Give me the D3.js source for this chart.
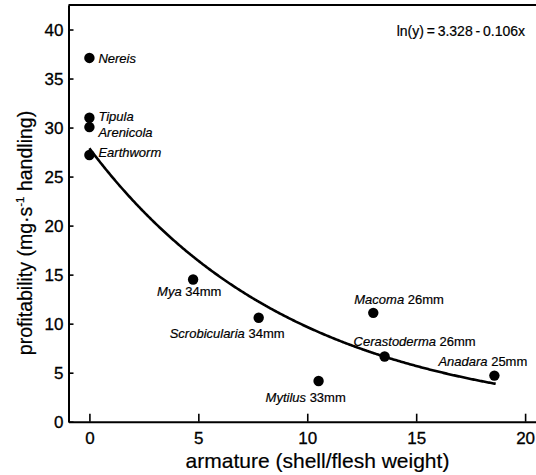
<!DOCTYPE html>
<html>
<head>
<meta charset="utf-8">
<script src="https://cdn.jsdelivr.net/npm/d3@7"></script>
<style>
  html, body { margin: 0; padding: 0; background: #fff; }
  svg { display: block; font-family: "Liberation Sans", Arial, Helvetica, sans-serif; }
</style>
</head>
<body>
<svg id="chart" width="536" height="475"></svg>
<script>
// Prey species: armature (shell/flesh weight) vs profitability
const species   = ["Nereis", "Tipula", "Arenicola", "Earthworm", "Mya", "Scrobicularia", "Macoma", "Cerastoderma", "Anadara", "Mytilus"];
const sizes     = ["", "", "", "", "34mm", "34mm", "26mm", "26mm", "25mm", "33mm"];
const armature  = [0, 0, 0, 0, 4.76, 7.77, 13.03, 13.55, 18.59, 10.52];
const profit    = [37.1, 31.0, 30.05, 27.2, 14.5, 10.6, 11.1, 6.65, 4.7, 4.15];
const xTicks    = [0, 5, 10, 15, 20];
const yTicks    = [0, 5, 10, 15, 20, 25, 30, 35, 40];
// fitted regression ln(y) = a - b x
const fitA = 3.328, fitB = 0.106;
const fitRange = [0, 18.65];

const plotL = 68.5, plotR = 536, plotT = 5, plotB = 421.7;

const x = d3.scaleLinear().domain([-0.96, 20.5]).range([plotL, plotR]);
const y = d3.scaleLinear().domain([0, 42.5]).range([plotB, plotT]);

const svg = d3.select("#chart");

// label placement around each point: anchor and offsets in px
const labelPlace = {
  Nereis:        { dx: 9,   dy: 5,   anchor: "start" },
  Tipula:        { dx: 9,   dy: 3,   anchor: "start" },
  Arenicola:     { dx: 9,   dy: 10,  anchor: "start" },
  Earthworm:     { dx: 9,   dy: 2,   anchor: "start" },
  Mya:           { dx: -36, dy: 16,  anchor: "start" },
  Scrobicularia: { dx: -89, dy: 20,  anchor: "start" },
  Macoma:        { dx: -19, dy: -9,  anchor: "start" },
  Cerastoderma:  { dx: -31, dy: -10, anchor: "start" },
  Anadara:       { dx: -56, dy: -10, anchor: "start" },
  Mytilus:       { dx: -53, dy: 21,  anchor: "start" }
};

// axes (frame)
const yAxis = d3.axisLeft(y).tickValues(yTicks).tickSizeInner(-5).tickSizeOuter(0).tickPadding(5);
const xAxis = d3.axisBottom(x).tickValues(xTicks).tickSizeInner(-8).tickSizeOuter(0).tickPadding(10);

const gy = svg.append("g").attr("transform", `translate(${plotL},0)`).call(yAxis);
const gx = svg.append("g").attr("transform", `translate(0,${plotB})`).call(xAxis);

[gx, gy].forEach(g => {
  g.select(".domain").attr("stroke", "#000").attr("stroke-width", 2);
  g.selectAll(".tick line").attr("stroke", "#000").attr("stroke-width", 1.6);
  g.selectAll(".tick text").attr("fill", "#000").attr("font-size", 17)
    .attr("stroke", "#000").attr("stroke-width", 0.3)
    .attr("font-family", "'Liberation Sans', Arial, sans-serif");
});
gy.selectAll(".tick text").attr("dy", "0.36em");
gx.selectAll(".tick text").attr("dy", "0.71em");

// top border
svg.append("line")
  .attr("x1", plotL).attr("x2", plotR)
  .attr("y1", plotT).attr("y2", plotT)
  .attr("stroke", "#000").attr("stroke-width", 2);

// regression curve
const curveX = d3.range(fitRange[0], fitRange[1] + 0.001, 0.05);
if (curveX[curveX.length - 1] < fitRange[1]) curveX.push(fitRange[1]);
svg.append("path")
  .datum(curveX)
  .attr("fill", "none")
  .attr("stroke", "#000")
  .attr("stroke-width", 2.6)
  .attr("d", d3.line().x(d => x(d)).y(d => y(Math.exp(fitA - fitB * d))));

// points
const pts = species.map((s, i) => ({ name: s, size: sizes[i], ax: armature[i], pr: profit[i] }));

svg.append("g").selectAll("circle")
  .data(pts).join("circle")
  .attr("cx", d => x(d.ax))
  .attr("cy", d => y(d.pr))
  .attr("r", 5.2)
  .attr("fill", "#000");

// point labels: italic genus + upright size
const lab = svg.append("g").attr("font-size", 13).attr("fill", "#000")
  .attr("stroke", "#000").attr("stroke-width", 0.2);
pts.forEach(d => {
  const p = labelPlace[d.name];
  const t = lab.append("text")
    .attr("x", x(d.ax) + p.dx)
    .attr("y", y(d.pr) + p.dy)
    .attr("text-anchor", p.anchor);
  t.append("tspan").attr("font-style", "italic").text(d.name);
  if (d.size) t.append("tspan").text(" " + d.size);
});

// equation
svg.append("text")
  .attr("x", 525).attr("y", 36)
  .attr("text-anchor", "end")
  .attr("font-size", 14)
  .attr("fill", "#000")
  .attr("stroke", "#000").attr("stroke-width", 0.2)
  .text("ln(y)\u2009=\u20093.328\u2009-\u20090.106x");

// axis titles
svg.append("text")
  .attr("x", (186.7 + 448.3) / 2)
  .attr("y", 468)
  .attr("text-anchor", "middle")
  .attr("font-size", 21)
  .attr("fill", "#000")
  .attr("stroke", "#000").attr("stroke-width", 0.2)
  .text("armature (shell/flesh weight)");

const yt = svg.append("text")
  .attr("transform", `translate(32,233) rotate(-90)`)
  .attr("text-anchor", "middle")
  .attr("font-size", 19.5)
  .attr("fill", "#000")
  .attr("stroke", "#000").attr("stroke-width", 0.2);
yt.append("tspan").text("profitability (mg\u00b7s");
yt.append("tspan").attr("font-size", 11.5).attr("dy", -8).text("-1");
yt.append("tspan").attr("dy", 8).text(" handling)");
</script>
</body>
</html>
